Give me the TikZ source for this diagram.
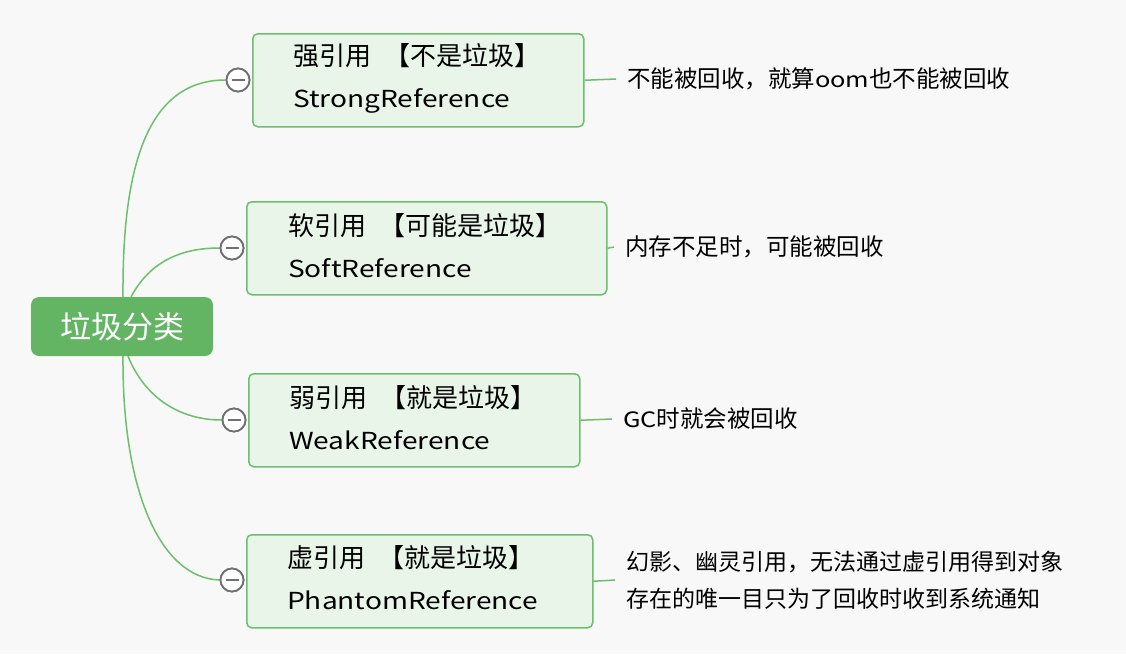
\documentclass[tikz,border=0pt]{standalone}
\usepackage{fontspec}
\setmainfont{Noto Sans CJK SC}
\newfontfamily\latf[FakeStretch=1.2, Scale=0.9]{Noto Sans CJK SC}
\newcommand{\lat}[1]{{\latf #1}}
\newcommand{\lb}{\hspace{13pt}【}
\definecolor{bg}{HTML}{F8F8F8}
\definecolor{rootfill}{HTML}{63B564}
\definecolor{boxfill}{HTML}{E9F5E9}
\definecolor{boxline}{HTML}{6CBF6C}
\definecolor{edgecol}{HTML}{6CBF6C}
\definecolor{knob}{HTML}{707070}
\begin{document}
\begin{tikzpicture}[x=1pt,y=-1pt,
  rootbox/.style={fill=rootfill, rounded corners=8pt, minimum width=182pt, minimum height=59pt, inner sep=0pt, text=white, font=\fontsize{31}{34}\selectfont},
  childbox/.style={draw=boxline, line width=1.5pt, fill=boxfill, rounded corners=5pt, minimum height=93pt, inner sep=0pt, anchor=north west},
  childtext/.style={anchor=west, align=left, inner sep=0pt, font=\fontsize{26}{42}\selectfont},
  leaf/.style={anchor=west, align=left, inner xsep=11pt, inner ysep=0pt, font=\fontsize{23.5}{37}\selectfont},
  edge/.style={draw=edgecol, line width=1.5pt},
  knobc/.style={circle, draw=knob, line width=1.8pt, fill=white, minimum size=23pt, inner sep=0pt}
]
\fill[bg] (0,0) rectangle (1126,654);
\useasboundingbox (0,0) rectangle (1126,654);

% root
\node[rootbox] (root) at (122,326.5) {垃圾分类};

% child boxes
\node[childbox, minimum width=331pt] (strong) at (252,33) {};
\node[childbox, minimum width=360pt] (soft) at (246,201) {};
\node[childbox, minimum width=331pt] (weak) at (248,373) {};
\node[childbox, minimum width=346pt] (phantom) at (246,534) {};

\node[childtext] (strongt) at (293,78) {强引用\lb 不是垃圾】\\\lat{StrongReference}};
\node[childtext] (softt) at (288,246) {软引用\lb 可能是垃圾】\\\lat{SoftReference}};
\node[childtext] (weakt) at (289,418) {弱引用\lb 就是垃圾】\\\lat{WeakReference}};
\node[childtext] (phantomt) at (287,578) {虚引用\lb 就是垃圾】\\\lat{PhantomReference}};

% knobs
\node[knobc] (k1) at (238,80) {};
\node[knobc] (k2) at (232,248) {};
\node[knobc] (k3) at (234,420) {};
\node[knobc] (k4) at (232,580) {};

% edges root -> knobs
\draw[edge] ([xshift=1pt]root.north) .. controls (122,160) and (150,80) .. (k1.west);
\draw[edge] ([xshift=9pt]root.north) .. controls (150,262) and (180,248) .. (k2.west);
\draw[edge] ([xshift=6pt]root.south) .. controls (145,398) and (180,420) .. (k3.west);
\draw[edge] ([xshift=1pt]root.south) .. controls (122,490) and (160,578) .. (k4.west);

% knobs on top of edges
\foreach \k in {k1,k2,k3,k4}{
  \draw[knob, line width=1.8pt, fill=white] (\k) circle (11.5pt);
  \draw[knob, line width=1.8pt] ([xshift=-6.5pt]\k.center) -- ([xshift=6.5pt]\k.center);
}

% leaves
\node[leaf] (l1) at (616,79) {不能被回收，就算\lat{oom}也不能被回收};
\node[leaf] (l2) at (614,247) {内存不足时，可能被回收};
\node[leaf] (l3) at (612,419) {\lat{GC}时就会被回收};
\node[leaf, font=\fontsize{23}{37}\selectfont] (l4) at (615,580) {幻影、幽灵引用，无法通过虚引用得到对象\\存在的唯一目只为了回收时收到系统通知};

\draw[edge] (strong.east) -- (l1.west);
\draw[edge] (soft.east) -- (l2.west);
\draw[edge] (weak.east) -- (l3.west);
\draw[edge] (phantom.east) -- (l4.west);
\end{tikzpicture}
\end{document}
